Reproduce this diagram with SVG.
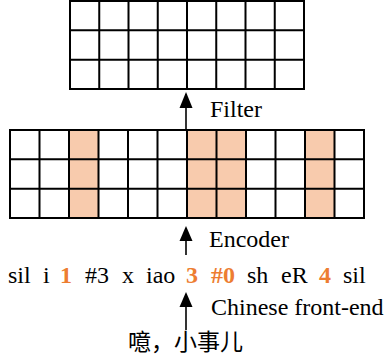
<svg xmlns="http://www.w3.org/2000/svg" width="386" height="360" viewBox="0 0 386 360">
  <style>
    .grid { fill: none; stroke: #000; stroke-width: 2; }
    .cell { fill: #fff; }
    .hot { fill: #F8CBAD; }
    .lbl { font-family: "Liberation Serif", "Times New Roman", serif; font-size: 24px; fill: #000; }
    .tok { font-family: "Liberation Serif", "Times New Roman", serif; font-size: 24px; fill: #000; }
    .tone { fill: #ED7D31; font-weight: bold; }
    .zh { font-family: "Liberation Serif", "Noto Sans CJK SC", serif; font-size: 23px; fill: #000; }
    .shaft { stroke: #000; stroke-width: 1.6; fill: none; }
    .head { fill: #000; }
  </style>

  <!-- filter output: 3 x 8 grid -->
  <g id="filter-grid">
    <rect x="70" y="1" width="234" height="88" class="cell"/>
    <path class="grid" d="M70,1 H304 V89 H70 Z
      M70,30.33 H304 M70,59.67 H304
      M99.25,1 V89 M128.5,1 V89 M157.75,1 V89 M187,1 V89
      M216.25,1 V89 M245.5,1 V89 M274.75,1 V89"/>
  </g>

  <!-- encoder output: 3 x 12 grid with highlighted tone columns -->
  <g id="encoder-grid">
    <rect x="10" y="130" width="354" height="88" class="cell"/>
    <rect x="69" y="130" width="29.5" height="88" class="hot"/>
    <rect x="187" y="130" width="59" height="88" class="hot"/>
    <rect x="305" y="130" width="29.5" height="88" class="hot"/>
    <path class="grid" d="M10,130 H364 V218 H10 Z
      M10,159.33 H364 M10,188.67 H364
      M39.5,130 V218 M69,130 V218 M98.5,130 V218 M128,130 V218
      M157.5,130 V218 M187,130 V218 M216.5,130 V218 M246,130 V218
      M275.5,130 V218 M305,130 V218 M334.5,130 V218"/>
  </g>

  <!-- connectors -->
  <g id="connectors">
    <path class="shaft" d="M186,130 V94"/>
    <polygon class="head" points="186,92 192.5,108 179.5,108"/>
    <path class="shaft" d="M186,255 V228"/>
    <polygon class="head" points="186,226 192.5,241 179.5,241"/>
    <path class="shaft" d="M186,330 V294"/>
    <polygon class="head" points="186,292 192.5,307 179.5,307"/>
  </g>

  <g id="label-filter"><text class="lbl" x="210" y="117">Filter</text></g>
  <g id="label-encoder"><text class="lbl" x="209" y="247">Encoder</text></g>
  <g id="label-frontend"><text class="lbl" x="211" y="315">Chinese front-end</text></g>

  <!-- phoneme sequence with tone / prosody tokens -->
  <g id="phoneme-seq" class="tok">
    <text x="8" y="283">sil</text>
    <text x="43" y="283">i</text>
    <text x="60" y="283" class="tone">1</text>
    <text x="85" y="283">#3</text>
    <text x="122" y="283">x</text>
    <text x="146" y="283">iao</text>
    <text x="186" y="283" class="tone">3</text>
    <text x="211" y="283" class="tone">#0</text>
    <text x="247" y="283">sh</text>
    <text x="281" y="283">eR</text>
    <text x="319" y="283" class="tone">4</text>
    <text x="343" y="283">sil</text>
  </g>

  <g id="input-text"><text class="zh" x="128" y="350">噫，小事儿</text></g>
</svg>
